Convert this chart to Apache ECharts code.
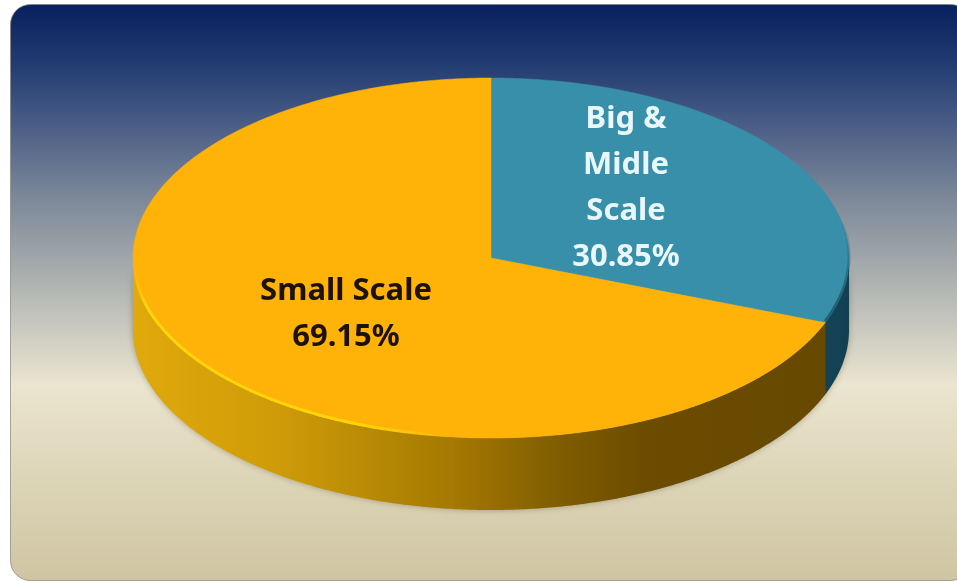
<!DOCTYPE html>
<html><head><meta charset="utf-8">
<style>html,body{margin:0;padding:0;background:#fff}#c{width:957px;height:582px}</style>
<script src="https://cdn.jsdelivr.net/npm/echarts@6/dist/echarts.min.js"></script>
</head><body><div id="c"></div>
<script>
const categories = ['Big &\nMidle\nScale', 'Small Scale'];
const shares = [30.85, 69.15];
const shareLabels = ['30.85%', '69.15%'];

const CX = 491, CY = 258, RX = 358, RY = 180, DEPTH = 72;
const total = shares.reduce((a, b) => a + b, 0);
const pt = (deg, dy) => {
  const r = deg * Math.PI / 180;
  return [CX + RX * Math.sin(r), CY - RY * Math.cos(r) + (dy || 0)];
};
const arc = (a, b, dy) => {
  const n = Math.max(2, Math.ceil(Math.abs(b - a) * 2));
  const out = [];
  for (let i = 0; i <= n; i++) out.push(pt(a + (b - a) * i / n, dy));
  return out;
};
const hGrad = stops => ({
  type: 'linear', x: CX - RX, y: 0, x2: CX + RX, y2: 0, global: true,
  colorStops: stops.map(s => ({ offset: s[0], color: s[1] }))
});
const wallGold = hGrad([[0, '#e0a90c'], [0.2, '#cf9c08'], [0.44, '#a67a02'], [0.6, '#7f5c00'], [0.72, '#6b4c00'], [1, '#664800']]);
const wallBlue = hGrad([[0.9, '#164f63'], [1, '#123f52']]);
const faces = ['#388fa9', '#ffb207'];
const inks = ['#e9f7fb', '#1d1208'];
const labelPos = [[626, 188], [346, 314]];

const chart = echarts.init(document.getElementById('c'), null, { renderer: 'canvas' });
let cum = [];
shares.reduce((acc, v, i) => { cum[i] = [acc, acc + v / total * 360]; return acc + v / total * 360; }, 0);

function renderItem(params, api) {
  const i = params.dataIndex;
  const [a0, a1] = cum[i];
  const kids = [];
  const wa = Math.max(a0, 90), wb = Math.min(a1, 270);
  if (wb > wa) {
    kids.push({
      type: 'polygon',
      shape: { points: arc(wa, wb, 0).concat(arc(wb, wa, DEPTH)) },
      style: { fill: i === 0 ? wallBlue : wallGold, shadowBlur: 6, shadowColor: 'rgba(60,45,10,.35)' },
      z2: 1
    });
  }
  kids.push({
    type: 'polygon',
    shape: { points: [[CX, CY]].concat(arc(a0, a1, 0)) },
    style: { fill: faces[i], stroke: faces[i], lineWidth: 0.5 },
    z2: 2
  });
  if (i === 1) {
    kids.push({
      type: 'polyline',
      shape: { points: arc(183, 268, -1) },
      style: {
        fill: null, lineWidth: 3, lineCap: 'round',
        stroke: { type: 'linear', x: CX - RX, y: 0, x2: CX - 40, y2: 0, global: true,
          colorStops: [{ offset: 0, color: 'rgba(255,212,10,0)' }, { offset: 0.04, color: '#ffd40a' }, { offset: 0.72, color: '#ffd40a' }, { offset: 1, color: 'rgba(255,212,10,0)' }] }
      },
      z2: 3
    });
  } else {
    kids.push({
      type: 'polyline',
      shape: { points: arc(78, a1, -1.5) },
      style: {
        fill: null, lineWidth: 3,
        stroke: { type: 'linear', x: 0, y: CY - 40, x2: 0, y2: CY + 40, global: true,
          colorStops: [{ offset: 0, color: 'rgba(25,80,100,0)' }, { offset: 1, color: 'rgba(25,80,100,.7)' }] }
      },
      z2: 3
    });
  }
  kids.push({
    type: 'text',
    z2: 5,
    style: {
      x: labelPos[i][0], y: labelPos[i][1],
      text: categories[i] + '\n' + shareLabels[i],
      fill: inks[i],
      font: '700 31px "Noto Sans", sans-serif',
      align: 'center', verticalAlign: 'middle', lineHeight: 46
    }
  });
  return { type: 'group', children: kids };
}

chart.setOption({
  animation: false,
  backgroundColor: '#fff',
  graphic: [{
    type: 'rect', z: -10, silent: true,
    shape: { x: 10.5, y: 4.5, width: 960, height: 576, r: 20 },
    style: {
      stroke: 'rgba(130,130,120,.7)', lineWidth: 1,
      fill: { type: 'linear', x: 0, y: 0, x2: 0, y2: 1, colorStops: [
        { offset: 0, color: '#08215f' }, { offset: 0.1, color: '#213a70' },
        { offset: 0.2, color: '#465a84' }, { offset: 0.33, color: '#7a8698' },
        { offset: 0.5, color: '#b4b8b4' }, { offset: 0.66, color: '#ebe5d0' },
        { offset: 0.82, color: '#ddd5b8' }, { offset: 1, color: '#cfc5a2' }] }
    }
  }],
  series: [{
    type: 'custom',
    coordinateSystem: 'none',
    renderItem,
    data: shares,
    silent: true,
    clip: false
  }]
});
</script></body></html>
